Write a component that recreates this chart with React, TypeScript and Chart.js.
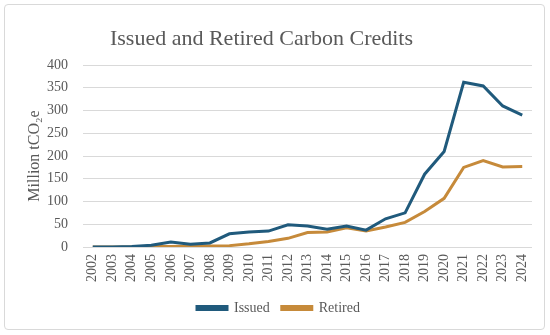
import React, { useEffect, useRef } from "react";
import { Chart, registerables } from "chart.js";

Chart.register(...registerables);

const years = ["2002","2003","2004","2005","2006","2007","2008","2009","2010","2011","2012","2013","2014","2015","2016","2017","2018","2019","2020","2021","2022","2023","2024"];
const issued = [0, 0, 1, 4, 11, 6, 9, 29, 33, 35, 49, 46, 39, 46, 37, 62, 75, 160, 210, 362, 354, 310, 290];
const retired = [0, 0, 0, 1, 1, 2, 2, 3, 7, 12, 19, 32, 33, 42, 35, 44, 54, 78, 107, 175, 190, 176, 177];
const yTicks = [0, 50, 100, 150, 200, 250, 300, 350, 400];
const chartTitle = "Issued and Retired Carbon Credits";

const FONT = "'Liberation Serif', 'Times New Roman', serif";

export default function App() {
  const ref = useRef<HTMLCanvasElement>(null);
  useEffect(() => {
    const ctx = ref.current!;
    const chart = new Chart(ctx, {
      type: "line",
      data: {
        labels: years,
        datasets: [
          { label: "Issued", data: issued, borderColor: "#205A7C", backgroundColor: "#205A7C", borderWidth: 3, pointRadius: 0, tension: 0 },
          { label: "Retired", data: retired, borderColor: "#C68A3A", backgroundColor: "#C68A3A", borderWidth: 3, pointRadius: 0, tension: 0 },
        ],
      },
      options: {
        animation: false,
        responsive: false,
        maintainAspectRatio: false,
        layout: { padding: { left: 25, right: 18, top: 65, bottom: 10 } },
        plugins: {
          title: { display: false },
          legend: {
            position: "bottom",
            labels: {
              color: "#595959",
              font: { family: FONT, size: 14 },
              boxWidth: 30,
              boxHeight: 3,
              padding: 12,
            },
          },
          tooltip: { enabled: false },
        },
        scales: {
          x: {
            offset: true,
            grid: { display: false, drawTicks: false },
            border: { display: false },
            ticks: {
              color: "#595959",
              font: { family: FONT, size: 14 },
              minRotation: 90,
              maxRotation: 90,
              autoSkip: false,
              padding: 7,
            },
          },
          y: {
            min: 0,
            max: 400,
            afterBuildTicks: (axis: any) => {
              axis.ticks = yTicks.map((v) => ({ value: v }));
            },
            afterFit: (axis: any) => {
              axis.width = 58;
            },
            grid: { color: "#d9d9d9", drawTicks: false },
            border: { display: false },
            ticks: {
              color: "#595959",
              font: { family: FONT, size: 14 },
              padding: 15,
            },
            title: {
              display: true,
              text: "Million tCO₂e",
              color: "#595959",
              font: { family: FONT, size: 16 },
              padding: { top: 0, bottom: 0 },
            },
          },
        },
      },
    });
    return () => chart.destroy();
  }, []);
  return (
    <div style={{ position: "absolute", left: 0, top: 0, width: 550, height: 335, background: "#fff" }}>
      <div style={{ position: "absolute", left: 4, top: 4, width: 541, height: 326, border: "1px solid #d9d9d9", borderRadius: 4, boxSizing: "border-box" }} />
      <canvas ref={ref} width={550} height={335} style={{ position: "absolute", left: 0, top: 0 }} />
      <div style={{ position: "absolute", left: 0, top: 25, width: 523, textAlign: "center", fontFamily: FONT, fontSize: 22, lineHeight: "26px", color: "#595959" }}>{chartTitle}</div>
    </div>
  );
}
